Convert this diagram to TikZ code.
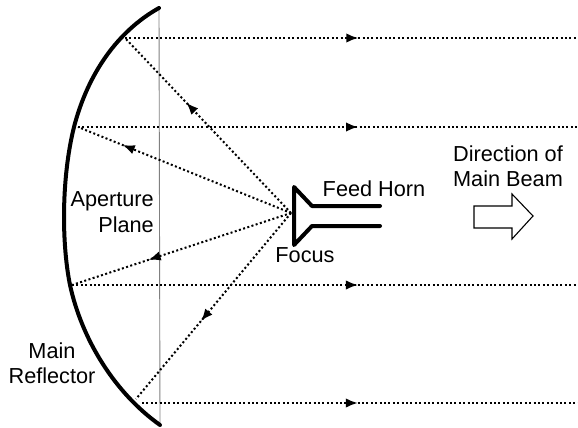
\documentclass[tikz,border=0pt]{standalone}
\usepackage{fontspec}
\setmainfont{Liberation Sans}
\usetikzlibrary{arrows.meta,decorations.markings}

\begin{document}
\begin{tikzpicture}[x=1pt,y=-1pt,>=Latex,font=\fontsize{21.7}{25.5}\selectfont]
  \tikzset{
    ray/.style={line width=2pt,dash pattern=on 2pt off 2.4pt,postaction={decorate},
      decoration={markings,mark=at position #1 with {\arrow[solid]{Latex[length=12pt,width=9.5pt]}}}},
    reflector/.style={line width=4pt,line cap=round},
    hornline/.style={line width=4pt,line join=round,line cap=round},
    label/.style={inner sep=0pt,align=center}
  }
  \useasboundingbox (0,0) rectangle (578,428);

  % Points on the reflector, the focus and the free ends of the beam
  \coordinate (top) at (159,8);
  \coordinate (bottom) at (160,425);
  \coordinate (focus) at (291,213);
  \coordinate (hit1) at (125,38);
  \coordinate (hit2) at (78,127);
  \coordinate (hit3) at (72,285);
  \coordinate (hit4) at (136,399);
  \coordinate (start4) at (142,403);
  \coordinate (end1) at (578,38);
  \coordinate (end2) at (578,127);
  \coordinate (end3) at (578,285);
  \coordinate (end4) at (578,403);

  % Aperture plane and main reflector
  \draw[gray,line width=0.9pt] (top) -- (bottom);
  \draw[reflector] (top) .. controls (118,31) and (88,73) .. (74,127)
    .. controls (62,175) and (61,240) .. (70,285)
    .. controls (82,340) and (115,393) .. (bottom);

  % Rays from the focus to the reflector
  \draw[ray=0.63] (focus) -- (hit1);
  \draw[ray=0.79] (focus) -- (hit2);
  \draw[ray=0.65] (focus) -- (hit3);
  \draw[ray=0.58] (focus) -- (hit4);

  % Main beam
  \draw[ray=0.515] (hit1) -- (end1);
  \draw[ray=0.56] (hit2) -- (end2);
  \draw[ray=0.565] (hit3) -- (end3);
  \draw[ray=0.495] (start4) -- (end4);

  % Feed horn
  \draw[hornline] (380,206) -- (312,206) -- (294,187) -- (294,245) -- (312,226) -- (380,226);

  % Direction arrow
  \draw[line width=1.1pt] (474,206) -- (512,206) -- (512,194) -- (533,216)
    -- (512,239) -- (512,228) -- (474,228) -- cycle;

  % Labels
  \node[label] (feed) at (374,189) {Feed Horn};
  \node[label] (focuslabel) at (305,255) {Focus};
  \node[label] (direction) at (508,166) {Direction of\\Main Beam};
  \node[label,align=right,anchor=east] (aperture) at (154,212) {Aperture\\Plane};
  \node[label] (main) at (52,363) {Main\\Reflector};
\end{tikzpicture}
\end{document}
